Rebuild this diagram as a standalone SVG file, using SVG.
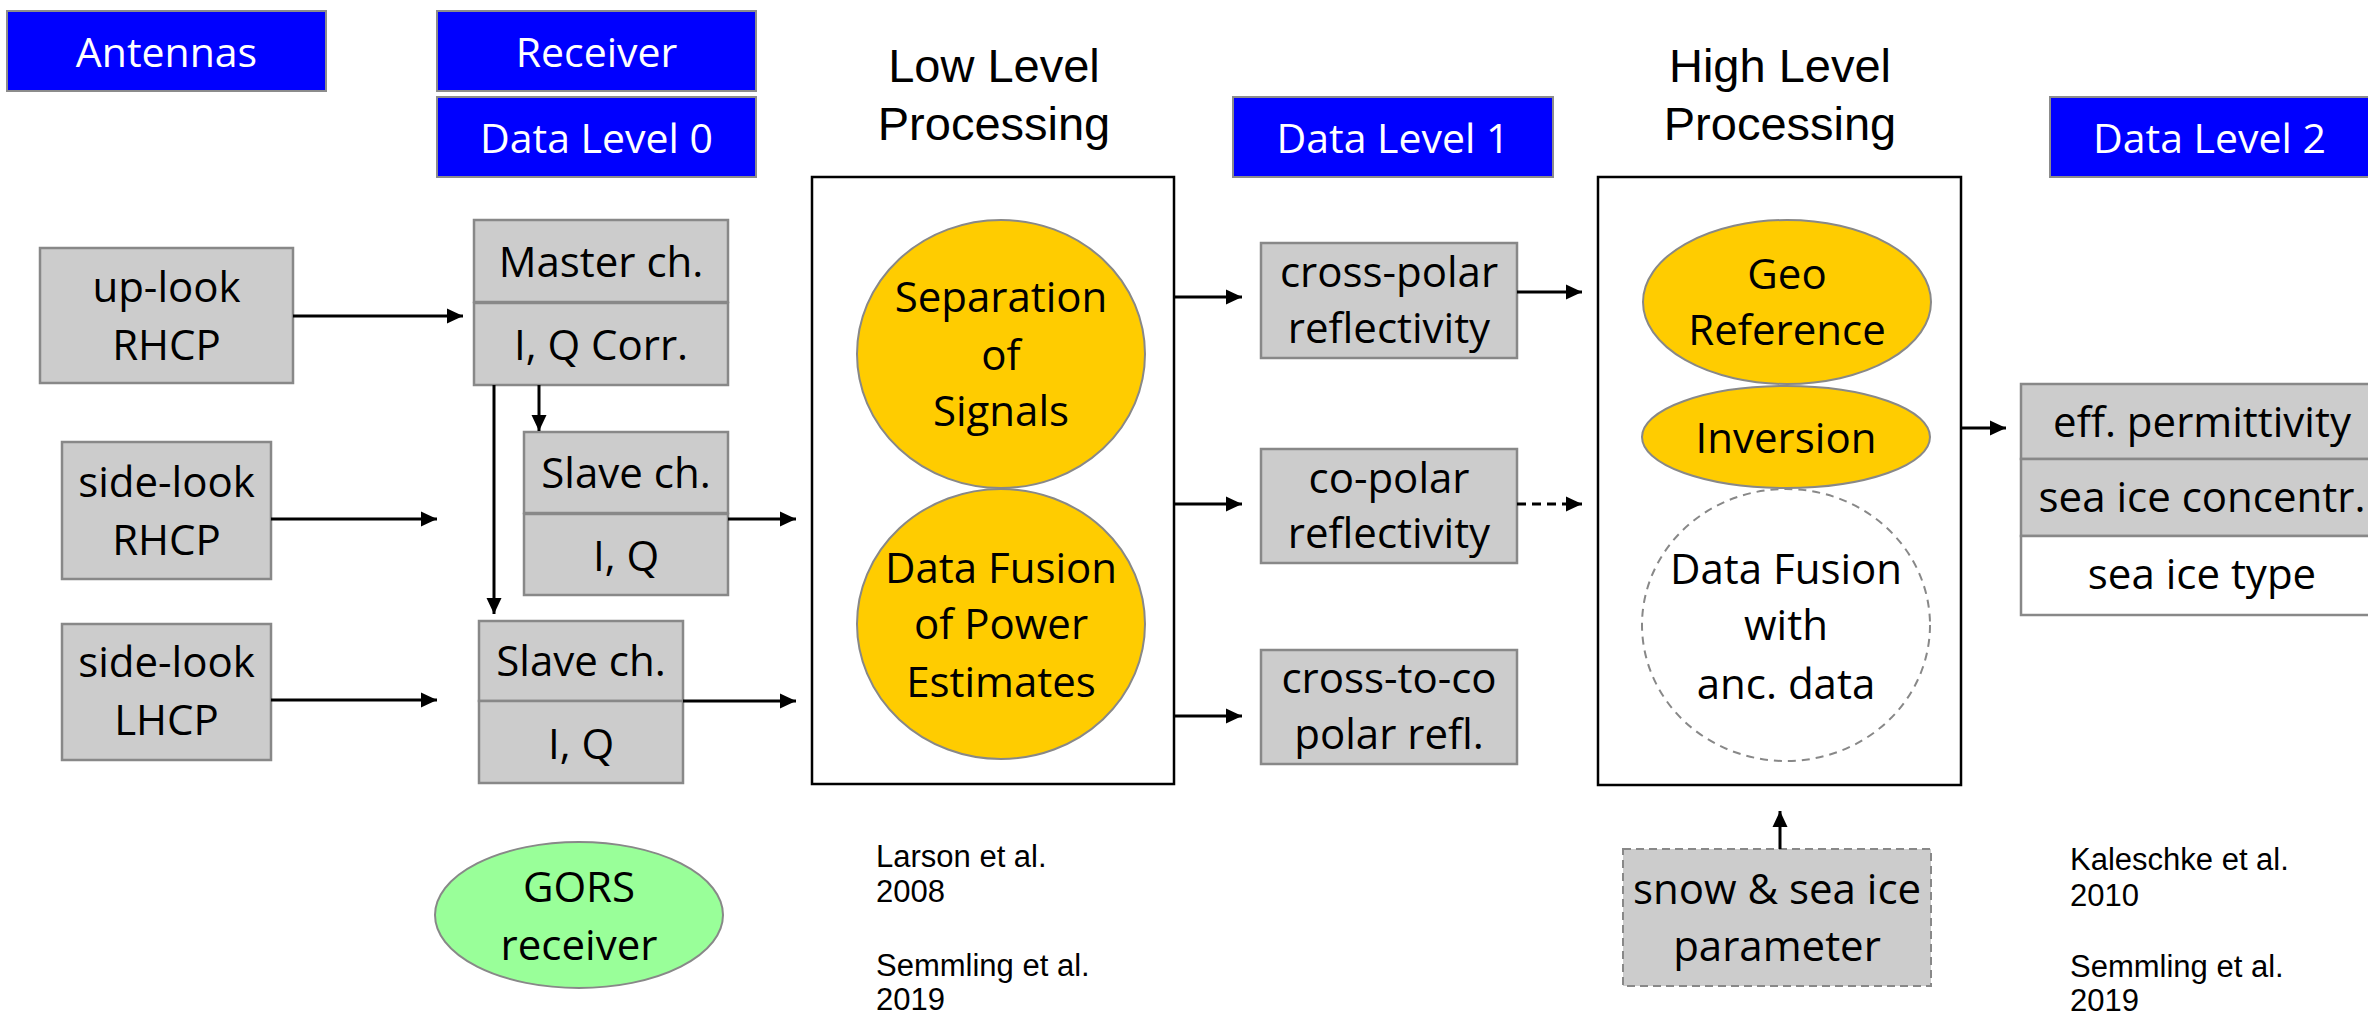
<svg xmlns="http://www.w3.org/2000/svg" width="2368" height="1014" viewBox="0 0 2368 1014">
<defs>
<style>
.hdr{fill:#0000ff;stroke:#8c8c8c;stroke-width:2}
.box{fill:#cccccc;stroke:#888888;stroke-width:2.5}
.wbox{fill:#ffffff;stroke:#888888;stroke-width:2.5}
.proc{fill:#ffffff;stroke:#000000;stroke-width:2.5}
.yel{fill:#ffcc00;stroke:#888888;stroke-width:2}
.grn{fill:#99ff99;stroke:#888888;stroke-width:2}
.dash{fill:#ffffff;stroke:#888888;stroke-width:2;stroke-dasharray:8,6}
.dbox{fill:#cccccc;stroke:#888888;stroke-width:2;stroke-dasharray:8,5}
.t{font-family:"Open Sans","Noto Sans",sans-serif;font-size:42px;fill:#000;text-anchor:middle}
.th{font-family:"Open Sans","Noto Sans",sans-serif;font-size:41px;fill:#fff;text-anchor:middle}
.ti{font-family:"Liberation Sans",Arial,sans-serif;font-size:47px;fill:#000;text-anchor:middle}
.ref{font-family:"Liberation Sans",Arial,sans-serif;font-size:31px;fill:#000}
.c{stroke:#000;stroke-width:3;fill:none;marker-end:url(#ah)}
.cd{stroke:#000;stroke-width:3;fill:none;stroke-dasharray:9,6;marker-end:url(#ah)}
</style>
<marker id="ah" viewBox="0 0 16 16" refX="16" refY="8" markerWidth="16" markerHeight="16" markerUnits="userSpaceOnUse" orient="auto">
<path d="M0,0.5 L16,8 L0,15.5 z" fill="#000"/>
</marker>
</defs>
<rect width="2368" height="1014" fill="#fff"/>

<g id="antennas-hdr"><rect class="hdr" x="7" y="11" width="319" height="80"/><text class="th" x="166.5" y="67">Antennas</text></g>
<g id="receiver-hdr"><rect class="hdr" x="437" y="11" width="319" height="80"/><text class="th" x="596.5" y="67">Receiver</text></g>
<g id="dl0-hdr"><rect class="hdr" x="437" y="97" width="319" height="80"/><text class="th" x="596.5" y="153">Data Level 0</text></g>
<g id="dl1-hdr"><rect class="hdr" x="1233" y="97" width="320" height="80"/><text class="th" x="1393" y="153">Data Level 1</text></g>
<g id="dl2-hdr"><rect class="hdr" x="2050" y="97" width="320" height="80"/><text class="th" x="2209.5" y="153">Data Level 2</text></g>

<g id="lowlevel-title"><text class="ti" x="994" y="82">Low Level</text><text class="ti" x="994" y="140">Processing</text></g>
<g id="highlevel-title"><text class="ti" x="1780" y="82">High Level</text><text class="ti" x="1780" y="140">Processing</text></g>

<g id="uplook"><rect class="box" x="40" y="248" width="253" height="135"/><text class="t" x="166.5" y="302">up-look</text><text class="t" x="166.5" y="360">RHCP</text></g>
<g id="sidelook-rhcp"><rect class="box" x="62" y="442" width="209" height="137"/><text class="t" x="166.5" y="497">side-look</text><text class="t" x="166.5" y="555">RHCP</text></g>
<g id="sidelook-lhcp"><rect class="box" x="62" y="624" width="209" height="136"/><text class="t" x="166.5" y="677">side-look</text><text class="t" x="166.5" y="735">LHCP</text></g>

<g id="master"><rect class="box" x="474" y="220" width="254" height="82"/><text class="t" x="601" y="277">Master ch.</text><rect class="box" x="474" y="303" width="254" height="82"/><text class="t" x="601" y="360">I, Q Corr.</text></g>
<g id="slave1"><rect class="box" x="524" y="432" width="204" height="81"/><text class="t" x="626" y="488">Slave ch.</text><rect class="box" x="524" y="514" width="204" height="81"/><text class="t" x="626" y="571">I, Q</text></g>
<g id="slave2"><rect class="box" x="479" y="621" width="204" height="80"/><text class="t" x="581" y="676">Slave ch.</text><rect class="box" x="479" y="701" width="204" height="82"/><text class="t" x="581" y="759">I, Q</text></g>

<g id="gors"><ellipse class="grn" cx="579" cy="915" rx="144" ry="73"/><text class="t" x="579" y="902">GORS</text><text class="t" x="579" y="960">receiver</text></g>

<g id="lowlevel"><rect class="proc" x="812" y="177" width="362" height="607"/>
<ellipse class="yel" cx="1001" cy="354" rx="144" ry="134"/>
<text class="t" x="1001" y="312">Separation</text><text class="t" x="1001" y="370">of</text><text class="t" x="1001" y="426">Signals</text>
<ellipse class="yel" cx="1001" cy="624" rx="144" ry="135"/>
<text class="t" x="1001" y="583">Data Fusion</text><text class="t" x="1001" y="639">of Power</text><text class="t" x="1001" y="697">Estimates</text></g>

<g id="crosspolar"><rect class="box" x="1261" y="243" width="256" height="115"/><text class="t" x="1389" y="287">cross-polar</text><text class="t" x="1389" y="343">reflectivity</text></g>
<g id="copolar"><rect class="box" x="1261" y="449" width="256" height="114"/><text class="t" x="1389" y="493">co-polar</text><text class="t" x="1389" y="548">reflectivity</text></g>
<g id="crosstoco"><rect class="box" x="1261" y="650" width="256" height="114"/><text class="t" x="1389" y="693">cross-to-co</text><text class="t" x="1389" y="749">polar refl.</text></g>

<g id="highlevel"><rect class="proc" x="1598" y="177" width="363" height="608"/>
<ellipse class="yel" cx="1787" cy="302" rx="144" ry="82"/>
<text class="t" x="1787" y="289">Geo</text><text class="t" x="1787" y="345">Reference</text>
<ellipse class="yel" cx="1786" cy="437" rx="144" ry="51"/>
<text class="t" x="1786" y="453">Inversion</text>
<ellipse class="dash" cx="1786" cy="625" rx="144" ry="136"/>
<text class="t" x="1786" y="584">Data Fusion</text><text class="t" x="1786" y="640">with</text><text class="t" x="1786" y="699">anc. data</text></g>

<g id="level2-table">
<rect class="box" x="2021" y="384" width="362" height="75"/><text class="t" x="2202" y="437">eff. permittivity</text>
<rect class="box" x="2021" y="459" width="362" height="77"/><text class="t" x="2202" y="512">sea ice concentr.</text>
<rect class="wbox" x="2021" y="536" width="362" height="79"/><text class="t" x="2202" y="589">sea ice type</text></g>

<g id="snow"><rect class="dbox" x="1623" y="849" width="308" height="137"/><text class="t" x="1777" y="904">snow &amp; sea ice</text><text class="t" x="1777" y="961">parameter</text></g>

<g id="ref-larson"><text class="ref" x="876" y="867">Larson et al.</text><text class="ref" x="876" y="902">2008</text><text class="ref" x="876" y="976">Semmling et al.</text><text class="ref" x="876" y="1010">2019</text></g>
<g id="ref-kaleschke"><text class="ref" x="2070" y="870">Kaleschke et al.</text><text class="ref" x="2070" y="906">2010</text><text class="ref" x="2070" y="977">Semmling et al.</text><text class="ref" x="2070" y="1011">2019</text></g>

<g id="connectors">
<line class="c" x1="293" y1="316" x2="463" y2="316"/>
<line class="c" x1="271" y1="519" x2="437" y2="519"/>
<line class="c" x1="271" y1="700" x2="437" y2="700"/>
<line class="c" x1="494" y1="385" x2="494" y2="614"/>
<line class="c" x1="539" y1="385" x2="539" y2="431"/>
<line class="c" x1="728" y1="519" x2="796" y2="519"/>
<line class="c" x1="683" y1="701" x2="796" y2="701"/>
<line class="c" x1="1174" y1="297" x2="1242" y2="297"/>
<line class="c" x1="1174" y1="504" x2="1242" y2="504"/>
<line class="c" x1="1174" y1="716" x2="1242" y2="716"/>
<line class="c" x1="1517" y1="292" x2="1582" y2="292"/>
<line class="cd" x1="1517" y1="504" x2="1582" y2="504"/>
<line class="c" x1="1961" y1="428" x2="2006" y2="428"/>
<line class="c" x1="1780" y1="849" x2="1780" y2="811"/>
</g>
</svg>
